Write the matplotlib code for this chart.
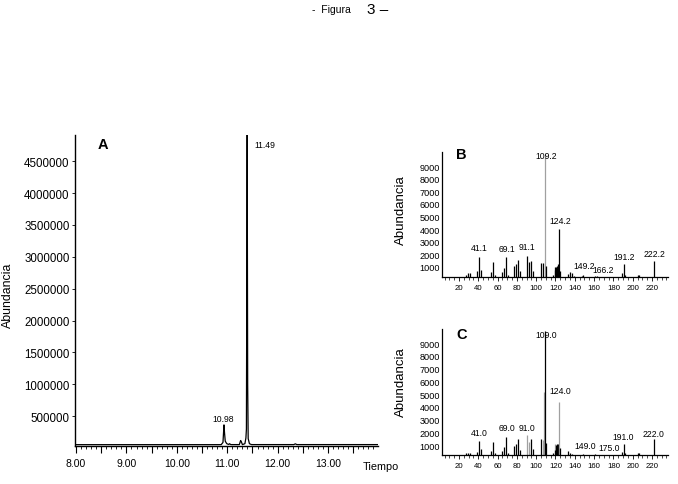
import matplotlib
matplotlib.use("Agg")
import matplotlib.pyplot as plt
from matplotlib.ticker import MultipleLocator

plt.rcParams['font.family'] = ['Liberation Sans', 'DejaVu Sans']

# --- panel A: chromatogram trace (time in min, abundance)
tiempo = [7.98, 10.88, 10.915, 10.935, 10.945, 10.96, 10.99, 11.03, 11.045, 11.07,
          11.24, 11.265, 11.28, 11.30, 11.35, 11.37, 11.38, 11.388, 11.395, 11.405,
          11.415, 11.44, 11.48, 12.32, 12.35, 12.38, 13.99]
abund_a = [55000, 55000, 90000, 365000, 250000, 110000, 70000, 58000, 70000, 56000,
           56000, 120000, 100000, 56000, 70000, 160000, 300000, 2750000, 4950000, 1000000,
           150000, 70000, 56000, 56000, 68000, 56000, 56000]
peaks_a = ["10.98", "11.49"]
peaks_a_x = [10.91, 11.75]
peaks_a_y = [458000, 4756000]

# --- panel B: mass spectrum
mz_b = [27, 29, 31, 39, 41, 43, 53, 55, 57, 65, 67, 69, 71, 77, 79, 81, 83, 91, 93, 95,
        97, 105, 107, 109, 110, 117, 119, 120, 121, 122, 123, 124, 125, 133, 135, 137,
        139, 147, 149, 161, 163, 166, 177, 179, 189, 191, 192, 205, 207, 222]
ab_b = [380, 520, 560, 650, 1820, 750, 600, 1400, 350, 600, 950, 1780, 400, 1050, 1250,
        1550, 650, 1850, 1400, 1500, 700, 1350, 1350, 10000, 1050, 350, 1000, 750, 1000,
        1100, 1200, 4000, 700, 450, 600, 550, 300, 300, 350, 300, 250, 200, 220, 180,
        550, 1200, 350, 400, 400, 1450]
gray_b = [109]
lab_b = ["41.1", "69.1", "91.1", "109.2", "124.2", "149.2", "166.2", "191.2", "222.2"]
lab_b_x = [41.0, 69.4, 90.2, 110.2, 124.7, 149.9, 169.0, 191.0, 222.1]
lab_b_y = [2530, 2485, 2590, 9840, 4680, 1100, 785, 1870, 2090]

# --- panel C: mass spectrum
mz_c = [27, 29, 31, 39, 41, 43, 53, 55, 57, 65, 67, 69, 71, 77, 79, 81, 83, 91, 93, 95,
        97, 105, 107, 108, 109, 110, 117, 119, 120, 121, 122, 123, 124, 125, 133, 135,
        137, 147, 149, 161, 163, 175, 177, 189, 191, 192, 205, 207, 222]
ab_c = [350, 400, 350, 450, 1300, 650, 550, 1250, 400, 550, 850, 1600, 400, 950, 1100,
        1450, 600, 1750, 1250, 1450, 700, 1450, 1400, 5200, 10000, 1150, 350, 1050, 600,
        1000, 1050, 1050, 4350, 750, 550, 400, 300, 250, 300, 300, 200, 250, 250, 450,
        1100, 350, 350, 350, 1450]
gray_c = [91, 93, 107, 108, 119, 124]
lab_c = ["41.0", "69.0", "91.0", "109.0", "124.0", "149.0", "175.0", "191.0", "222.0"]
lab_c_x = [41.0, 69.4, 90.2, 110.0, 125.4, 150.6, 175.8, 190.3, 221.4]
lab_c_y = [1996, 2357, 2412, 9706, 5314, 945, 820, 1682, 1918]

fig = plt.figure(figsize=(6.78, 4.85), dpi=100)

fig.text(312 / 678, 1 - 10 / 485, "-  Figura", fontsize=7.5, ha='left', va='center')
fig.text(367 / 678, 1 - 10 / 485, "3 \u2013", fontsize=11, ha='left', va='center')

# chromatogram
ax = fig.add_axes([75 / 678, 38 / 485, 303 / 678, 311 / 485])
ax.plot(tiempo, abund_a, color='black', lw=0.9)
ax.set_xlim(7.98, 13.99)
ax.set_ylim(34000, 4910000)
xt = [8 + 0.5 * i for i in range(12)]
ax.set_xticks(xt)
ax.set_xticklabels(["%.2f" % v if v == int(v) else "" for v in xt])
ax.xaxis.set_minor_locator(MultipleLocator(0.1))
ax.set_yticks(range(500000, 4500001, 500000))
ax.set_yticklabels([str(v) for v in range(500000, 4500001, 500000)])
ax.tick_params(axis='x', which='major', length=5, width=0.8, pad=4, labelsize=7.5)
ax.tick_params(axis='x', which='minor', length=2.5, width=0.6)
ax.tick_params(axis='y', length=2, width=0.6, pad=2, labelsize=8.3)
for s in ['top', 'right']:
    ax.spines[s].set_visible(False)
for s in ['left', 'bottom']:
    ax.spines[s].set_linewidth(1.0)
for t, x, y in zip(peaks_a, peaks_a_x, peaks_a_y):
    ax.text(x, y, t, fontsize=6.2, ha='center', va='center')
ax.text(0.092, 0.971, "A", transform=ax.transAxes, fontsize=10.5, fontweight='bold',
        ha='center', va='center')
ax.set_ylabel("Abundancia", fontsize=8.9)
ax.yaxis.set_label_coords(-0.201, 0.487)
fig.text(363 / 678, 1 - 467 / 485, "Tiempo", fontsize=7.8, ha='left', va='center')


def spectrum(ax, mz, ab, gray, labs, lx, ly, ymin, letter, lety, labely):
    cols = ['#a0a0a0' if m in gray else 'black' for m in mz]
    ax.vlines(mz, ymin, ab, colors=cols, lw=0.9)
    ax.set_xlim(2.4, 236.6)
    ax.set_ylim(ymin, 10120)
    ax.set_xticks(range(20, 221, 20))
    ax.xaxis.set_minor_locator(MultipleLocator(5))
    ax.set_yticks(range(1000, 9001, 1000))
    ax.tick_params(axis='x', which='major', length=3, width=0.6, pad=2, labelsize=5.6)
    ax.tick_params(axis='x', which='minor', length=1.8, width=0.5)
    ax.tick_params(axis='y', length=0, pad=1.5, labelsize=6.6)
    for s in ['top', 'right']:
        ax.spines[s].set_visible(False)
    for s in ['left', 'bottom']:
        ax.spines[s].set_linewidth(0.9)
    for t, x, y in zip(labs, lx, ly):
        ax.text(x, y, t, fontsize=6.2, ha='center', va='center')
    ax.text(0.087, lety, letter, transform=ax.transAxes, fontsize=10.5,
            fontweight='bold', ha='center', va='center')
    ax.set_ylabel("Abundancia", fontsize=9.5)
    ax.yaxis.set_label_coords(-0.157, labely)


axb = fig.add_axes([442 / 678, 207 / 485, 226 / 678, 125 / 485])
spectrum(axb, mz_b, ab_b, gray_b, lab_b, lab_b_x, lab_b_y, 206, "B", 0.984, 0.544)

axc = fig.add_axes([442 / 678, 29 / 485, 226 / 678, 126 / 485])
spectrum(axc, mz_c, ab_c, gray_c, lab_c, lab_c_x, lab_c_y, 216, "C", 0.96, 0.587)

fig.savefig("out.png", dpi=100)
